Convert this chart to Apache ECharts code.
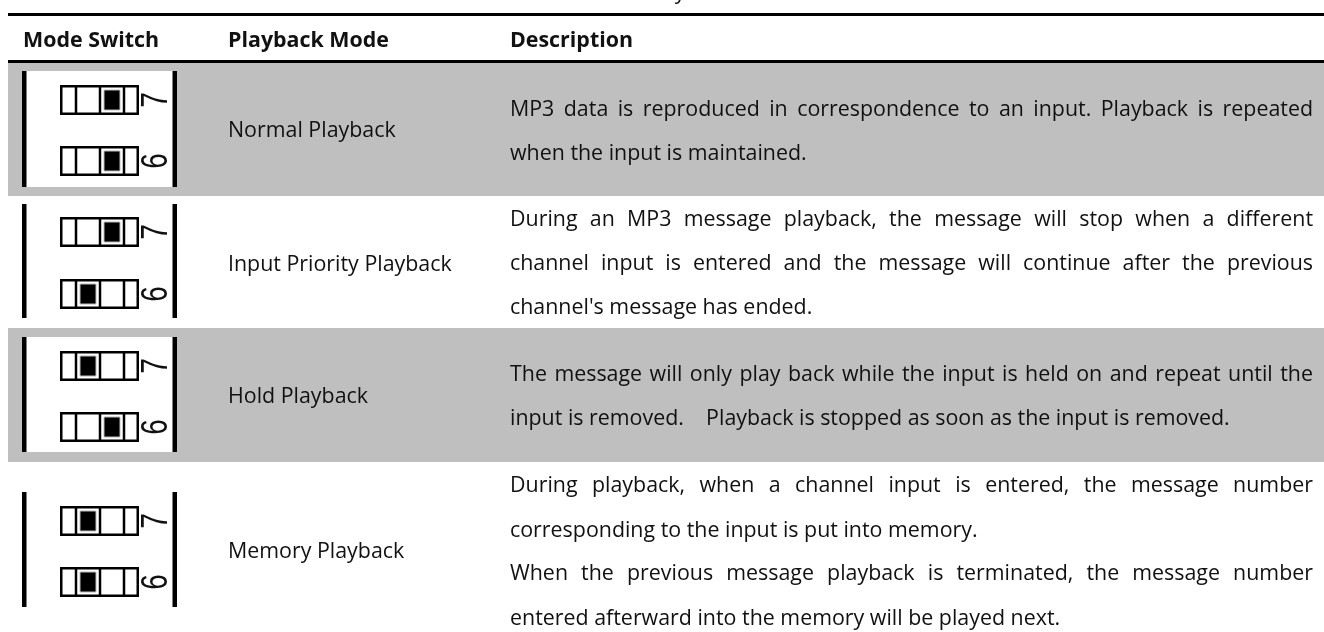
<!DOCTYPE html>
<html><head><meta charset="utf-8">
<style>html,body{margin:0;padding:0;background:#fff}#c{width:1324px;height:632px}</style>
<script src="https://cdn.jsdelivr.net/npm/echarts@6/dist/echarts.min.js"></script>
</head><body><div id="c"></div>
<script>
const headers = ['Mode Switch', 'Playback Mode', 'Description'];
const modes = ['Normal Playback', 'Input Priority Playback', 'Hold Playback', 'Memory Playback'];
const switch7 = [2, 2, 1, 1];
const switch6 = [2, 1, 2, 1];
const descriptions = [
  ['MP3 data is reproduced in correspondence to an input. Playback is repeated', 'when the input is maintained.'],
  ['During an MP3 message playback, the message will stop when a different', 'channel input is entered and the message will continue after the previous', "channel's message has ended."],
  ['The message will only play back while the input is held on and repeat until the', 'input is removed.    Playback is stopped as soon as the input is removed.'],
  ['During playback, when a channel input is entered, the message number', 'corresponding to the input is put into memory.', 'When the previous message playback is terminated, the message number', 'entered afterward into the memory will be played next.']
];

// layout (pixel domain of the hidden axes); y values are text baselines
const L = {
  shaded: [true, false, true, false],
  rowTop: [63, 196, 328, 462],
  rowBottom: [196, 328, 462, 632],
  boxTop: [71, 204, 337, 492],
  boxBottom: [187, 318, 452, 607],
  sw7Top: [85, 217, 351, 506],
  sw6Top: [146, 279, 412, 567],
  modeY: [137, 271, 403, 558],
  lineY: [[116, 160], [226, 270, 314], [381, 425], [492, 537, 580, 625]],
  lineEnd: [[1313, 0], [1313, 1313, 0], [1313, 0], [1313, 0, 1313, 0]],
  colX: [23, 228, 510]
};
const BODY = '21.4px "Open Sans"', BOLD = 'bold 21.4px "Open Sans"';
const meas = document.createElement('canvas').getContext('2d');
function midOffset(font) {
  meas.font = font; meas.textBaseline = 'middle';
  const d = meas.measureText('x').actualBoundingBoxDescent;
  meas.textBaseline = 'alphabetic';
  return d;
}

function pt(api, x, y) { return api.coord([x, y]); }
function rect(api, x0, y0, x1, y1, style) {
  const a = pt(api, x0, y0), b = pt(api, x1, y1);
  return { type: 'rect', shape: { x: a[0], y: a[1], width: b[0] - a[0], height: b[1] - a[1] }, style };
}
function label(api, x, y, text, font, align) {
  const a = pt(api, x, y - midOffset(font));
  return { type: 'text', style: { x: a[0], y: a[1], text, font, fill: '#111', align: align || 'left', verticalAlign: 'middle' } };
}
function dip(api, top, pos, digit) {
  const out = [];
  const x0 = 60, x1 = 139, h = 30, lw = 2.5;
  out.push(rect(api, x0 + 1.25, top + 1.25, x1 - 1.25, top + h - 1.25, { fill: '#fff', stroke: '#000', lineWidth: lw }));
  [76, 100, 124].forEach(x => out.push(rect(api, x - 1.25, top, x + 1.25, top + h, { fill: '#000' })));
  const kx = pos === 2 ? 104 : 80;
  out.push(rect(api, kx, top + 5, kx + 16, top + 25, { fill: '#000', stroke: '#bbb', lineWidth: 1 }));
  const c = pt(api, 156.5, top + 15);
  out.push({ type: 'text', x: c[0], y: c[1], rotation: Math.PI / 2, scaleX: 1, scaleY: 1.3,
    style: { x: 0, y: 0, text: digit, font: '28px "Liberation Sans"', fill: '#111', align: 'center', verticalAlign: 'middle' } });
  return out;
}
function line(api, x, y, text, end) {
  const out = [];
  if (!end) return [label(api, x, y, text, BODY)];
  const words = text.split(' ').filter(Boolean);
  meas.font = BODY;
  const total = words.reduce((s, w) => s + meas.measureText(w).width, 0);
  const gap = (end - x - total) / (words.length - 1);
  let cx = x;
  words.forEach(w => { out.push(label(api, cx, y, w, BODY)); meas.font = BODY; cx += meas.measureText(w).width + gap; });
  return out;
}
function renderRow(params, api) {
  const i = api.value(0), ch = [];
  if (L.shaded[i]) {
    ch.push(rect(api, 8, L.rowTop[i], 1324, L.rowBottom[i], { fill: '#bfbfbf' }));
    ch.push(rect(api, 22, L.boxTop[i], 177, L.boxBottom[i], { fill: '#fff' }));
  }
  ch.push(rect(api, 22, L.boxTop[i], 26.5, L.boxBottom[i], { fill: '#000' }));
  ch.push(rect(api, 172.5, L.boxTop[i], 177, L.boxBottom[i], { fill: '#000' }));
  ch.push(...dip(api, L.sw7Top[i], switch7[i], '7'));
  ch.push(...dip(api, L.sw6Top[i], switch6[i], '6'));
  ch.push(label(api, L.colX[1], L.modeY[i], modes[i], BODY));
  descriptions[i].forEach((t, k) => ch.push(...line(api, L.colX[2], L.lineY[i][k], t, L.lineEnd[i][k])));
  return { type: 'group', children: ch };
}
function renderHead(params, api) {
  const ch = [
    rect(api, 8, 13, 1324, 16, { fill: '#000' }),
    rect(api, 8, 60, 1324, 63, { fill: '#000' }),
    label(api, 680, -1, 'y', BODY, 'center')
  ];
  headers.forEach((h, k) => ch.push(label(api, L.colX[k], 47, h, BOLD)));
  return { type: 'group', children: ch };
}

const chart = echarts.init(document.getElementById('c'), null, { renderer: 'canvas' });
chart.setOption({
  animation: false,
  backgroundColor: '#fff',
  grid: { left: 0, right: 0, top: 0, bottom: 0 },
  xAxis: { type: 'value', min: 0, max: 1324, show: false },
  yAxis: { type: 'value', min: 0, max: 632, inverse: true, show: false },
  series: [
    { type: 'custom', silent: true, clip: false, coordinateSystem: 'cartesian2d', renderItem: renderRow, encode: { x: 0 }, data: modes.map((m, i) => [i]) },
    { type: 'custom', silent: true, clip: false, coordinateSystem: 'cartesian2d', renderItem: renderHead, encode: { x: 0 }, data: [[0]] }
  ]
});
</script></body></html>
